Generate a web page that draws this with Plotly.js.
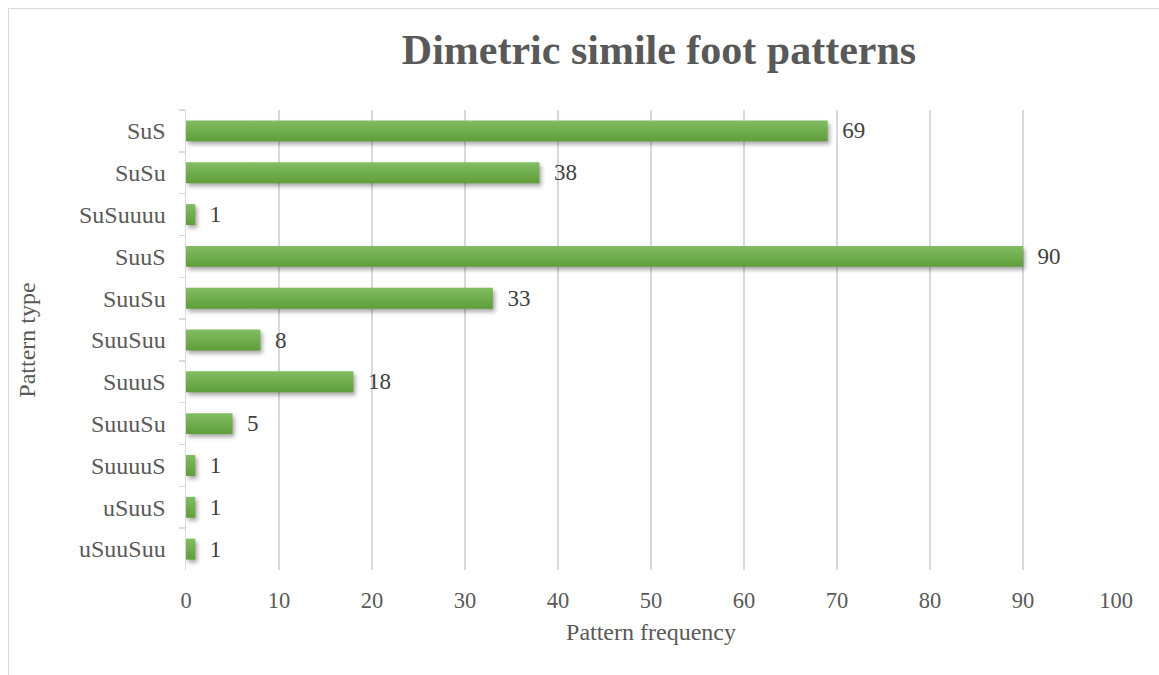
<!DOCTYPE html>
<html>
<head>
<meta charset="utf-8">
<script src="https://cdn.plot.ly/plotly-3.0.1.min.js"></script>
<style>
  html, body { margin: 0; padding: 0; background: #ffffff; }
  #wrap { position: relative; width: 1159px; height: 675px; overflow: hidden; }
  #frame {
    position: absolute; left: 8px; top: 8px; width: 1200px; height: 700px;
    border-top: 1.5px solid #d9d9d9; border-left: 1.5px solid #d9d9d9;
    pointer-events: none;
  }
  #chart { position: absolute; left: 0; top: 0; width: 1159px; height: 675px; }
  /* green bars: soft vertical gradient with a drop shadow */
  #chart .trace.bars .point path {
    fill: url(#barShade) !important;
    filter: drop-shadow(2px 3px 2px rgba(0, 0, 0, 0.35));
  }
</style>
</head>
<body>
<svg width="0" height="0" style="position:absolute">
  <defs>
    <linearGradient id="barShade" x1="0" y1="0" x2="0" y2="1">
      <stop offset="0%" stop-color="#82bd62"/>
      <stop offset="100%" stop-color="#5f9e39"/>
    </linearGradient>
  </defs>
</svg>
<div id="wrap">
  <div id="chart"></div>
  <div id="frame"></div>
</div>
<script>
// Foot pattern types, listed top to bottom
const patternTypes = ['SuS', 'SuSu', 'SuSuuuu', 'SuuS', 'SuuSu', 'SuuSuu',
                      'SuuuS', 'SuuuSu', 'SuuuuS', 'uSuuS', 'uSuuSuu'];
// Number of occurrences of each pattern
const patternFrequency = [69, 38, 1, 90, 33, 8, 18, 5, 1, 1, 1];
// Frequency axis ticks
const freqTicks = [0, 10, 20, 30, 40, 50, 60, 70, 80, 90, 100];

const serif = 'Liberation Serif, Times New Roman, serif';
const grey = '#595959';

const trace = {
  type: 'bar',
  orientation: 'h',
  x: patternFrequency,
  y: patternTypes,
  marker: { color: '#70ad47' },
  texttemplate: '\u00a0\u00a0%{x}',
  textposition: 'outside',
  constraintext: 'none',
  cliponaxis: false,
  textfont: { family: serif, size: 23, color: '#404040' },
  hoverinfo: 'x+y'
};

const layout = {
  width: 1159,
  height: 675,
  margin: { l: 186, r: 43, t: 110, b: 105 },
  paper_bgcolor: '#ffffff',
  plot_bgcolor: '#ffffff',
  showlegend: false,
  bargap: 0.5,
  font: { family: serif, color: grey },
  title: {
    text: '<b>Dimetric simile foot patterns</b>',
    font: { family: serif, size: 42, color: grey },
    xref: 'paper', x: 0.5086, xanchor: 'center',
    yref: 'container', y: 0.927, yanchor: 'middle'
  },
  xaxis: {
    range: [0, 100],
    tickvals: freqTicks,
    ticktext: freqTicks.map(String),
    showgrid: true,
    gridcolor: '#d9d9d9',
    gridwidth: 1.5,
    zeroline: false,
    showline: false,
    ticks: '',
    ticklabelstandoff: 14,
    tickfont: { family: serif, size: 22.5, color: grey },
    title: {
      text: 'Pattern frequency',
      font: { family: serif, size: 24, color: grey },
      standoff: 11
    },
    automargin: false,
    fixedrange: true
  },
  yaxis: {
    type: 'category',
    categoryorder: 'array',
    categoryarray: patternTypes,
    autorange: 'reversed',
    showgrid: false,
    showline: true,
    linecolor: '#d9d9d9',
    linewidth: 1.5,
    ticks: 'outside',
    tickson: 'boundaries',
    ticklen: 6,
    tickwidth: 1.5,
    tickcolor: '#d9d9d9',
    ticklabelstandoff: 14,
    tickfont: { family: serif, size: 24, color: grey },
    title: {
      text: 'Pattern type',
      font: { family: serif, size: 24, color: grey },
      standoff: 36
    },
    automargin: false,
    fixedrange: true
  }
};

Plotly.newPlot('chart', [trace], layout, { displayModeBar: false, staticPlot: true });
</script>
</body>
</html>
